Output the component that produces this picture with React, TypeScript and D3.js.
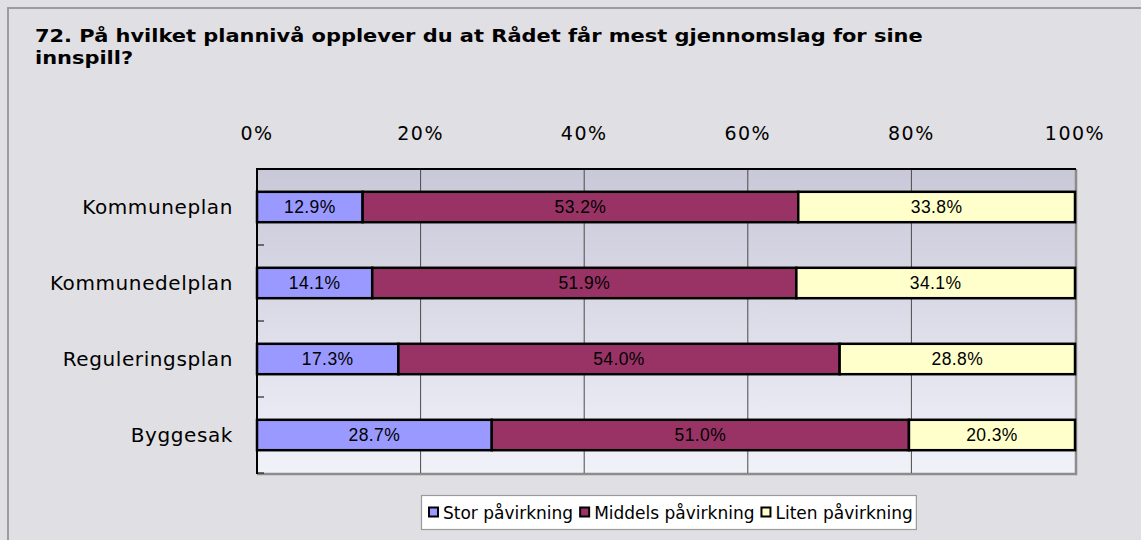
import React from 'react';
import * as d3 from 'd3';

const categories = ['Kommuneplan', 'Kommunedelplan', 'Reguleringsplan', 'Byggesak'];
const seriesNames = ['Stor påvirkning', 'Middels påvirkning', 'Liten påvirkning'];
const stor = [12.9, 14.1, 17.3, 28.7];
const middels = [53.2, 51.9, 54.0, 51.0];
const liten = [33.8, 34.1, 28.8, 20.3];
const xTicks = [0, 0.2, 0.4, 0.6, 0.8, 1];
const colors = ['#9999ff', '#993366', '#ffffcc'];
const titleLines = [
  '72. På hvilket plannivå opplever du at Rådet får mest gjennomslag for sine',
  'innspill?',
];

const VERDANA = '"DejaVu Sans", Verdana, sans-serif';
const ARIAL = '"Liberation Sans", Arial, sans-serif';

export default function App() {
  const ref = React.useRef<SVGSVGElement>(null);

  React.useEffect(() => {
    if (!ref.current) return;
    const W = 1141, H = 540;
    const plot = { left: 257, right: 1075, top: 169, bottom: 473 };
    const svg = d3.select(ref.current);
    svg.selectAll('*').remove();
    svg.attr('width', W).attr('height', H);

    const defs = svg.append('defs');
    const grad = defs.append('linearGradient').attr('id', 'plotbg')
      .attr('x1', 0).attr('y1', 0).attr('x2', 0).attr('y2', 1);
    grad.append('stop').attr('offset', '0%').attr('stop-color', '#c8c8d8');
    grad.append('stop').attr('offset', '100%').attr('stop-color', '#f1f1f9');

    // chart background + frame
    svg.append('rect').attr('x', 0).attr('y', 0).attr('width', W).attr('height', H).attr('fill', '#e0dfe3');
    svg.append('rect').attr('x', 8).attr('y', 8).attr('width', W + 20).attr('height', H + 20)
      .attr('fill', 'none').attr('stroke', '#9c9c9c').attr('stroke-width', 2);

    // title (Verdana bold is wider than DejaVu bold -> stretch a bit)
    svg.append('g').selectAll('text').data(titleLines).join('text')
      .attr('transform', (_d, i) => `translate(35,${42 + i * 21.5}) scale(1.163,1)`)
      .attr('font-family', VERDANA).attr('font-weight', 'bold')
      .attr('font-size', 18).attr('fill', '#000')
      .text(d => d);

    const x = d3.scaleLinear().domain([0, 1]).range([plot.left, plot.right]);
    const y = d3.scaleBand<string>().domain(categories).range([plot.top, plot.bottom])
      .paddingInner(0.6).paddingOuter(0.3);

    // plot area
    svg.append('rect').attr('x', plot.left).attr('y', plot.top)
      .attr('width', plot.right - plot.left).attr('height', plot.bottom - plot.top)
      .attr('fill', 'url(#plotbg)');
    svg.append('path')
      .attr('d', `M${plot.right + 1},${plot.top} V${plot.bottom + 1} H${plot.left}`)
      .attr('fill', 'none').attr('stroke', '#8c8c8c').attr('stroke-width', 2.5);

    // gridlines
    svg.append('g').selectAll('line').data(xTicks.slice(1, -1)).join('line')
      .attr('x1', d => x(d)).attr('x2', d => x(d))
      .attr('y1', plot.top).attr('y2', plot.bottom)
      .attr('stroke', '#4a4a4a').attr('stroke-width', 1);

    // top + left axis lines
    svg.append('path')
      .attr('d', `M${plot.left},${plot.bottom + 1} V${plot.top} H${plot.right + 1}`)
      .attr('fill', 'none').attr('stroke', '#000').attr('stroke-width', 2);

    // category boundary ticks on y axis
    const step = y.step();
    svg.append('g').selectAll('line').data(d3.range(1, categories.length + 1)).join('line')
      .attr('x1', plot.left).attr('x2', plot.left + 7)
      .attr('y1', k => plot.top + k * step).attr('y2', k => plot.top + k * step)
      .attr('stroke', '#000').attr('stroke-width', 1);

    // x tick labels
    svg.append('g').selectAll('text').data(xTicks).join('text')
      .attr('x', d => x(d)).attr('y', 140)
      .attr('text-anchor', 'middle')
      .attr('font-family', VERDANA).attr('font-size', 19).attr('letter-spacing', 1.5)
      .attr('fill', '#000')
      .text(d => `${Math.round(d * 100)}%`);

    // category labels
    svg.append('g').selectAll('text').data(categories).join('text')
      .attr('x', 233).attr('y', d => y(d)! + y.bandwidth() / 2)
      .attr('dy', '0.35em').attr('text-anchor', 'end')
      .attr('font-family', VERDANA).attr('font-size', 20).attr('letter-spacing', 0.6)
      .attr('fill', '#000')
      .text(d => d);

    // stacked bars (normalised to 100%)
    const rows = categories.map((c, i) => {
      const vals = [stor[i], middels[i], liten[i]];
      const total = d3.sum(vals);
      let acc = 0;
      return vals.map((v, s) => {
        const seg = { cat: c, s, v, x0: acc / total, x1: (acc + v) / total };
        acc += v;
        return seg;
      });
    }).flat();

    const bars = svg.append('g');
    bars.selectAll('rect').data(rows).join('rect')
      .attr('x', d => x(d.x0)).attr('y', d => y(d.cat)!)
      .attr('width', d => x(d.x1) - x(d.x0)).attr('height', y.bandwidth())
      .attr('fill', d => colors[d.s]).attr('stroke', '#000').attr('stroke-width', 2.5);

    bars.selectAll('text').data(rows).join('text')
      .attr('x', d => (x(d.x0) + x(d.x1)) / 2).attr('y', d => y(d.cat)! + y.bandwidth() / 2)
      .attr('dy', '0.35em').attr('text-anchor', 'middle')
      .attr('font-family', ARIAL).attr('font-size', 17.5).attr('letter-spacing', 0.4)
      .attr('fill', '#000')
      .text(d => `${d.v.toFixed(1)}%`);

    // legend
    const lg = svg.append('g');
    const box = lg.append('rect').attr('x', 421.5).attr('y', 495.5).attr('height', 34)
      .attr('fill', '#fff').attr('stroke', '#9a9a9a').attr('stroke-width', 1.2);
    let cx = 429;
    seriesNames.forEach((name, i) => {
      lg.append('rect').attr('x', cx).attr('y', 507.5).attr('width', 9).attr('height', 9)
        .attr('fill', colors[i]).attr('stroke', '#000').attr('stroke-width', 2);
      const t = lg.append('text').attr('x', cx + 14).attr('y', 519)
        .attr('font-family', VERDANA).attr('font-size', 17)
        .attr('fill', '#000').text(name);
      const w = (t.node() as SVGTextElement).getComputedTextLength();
      cx = cx + 14 + w + 7;
    });
    box.attr('width', cx - 421 - 4);
  }, []);

  return <svg ref={ref} style={{ position: 'absolute', left: 0, top: 0, display: 'block' }} />;
}
